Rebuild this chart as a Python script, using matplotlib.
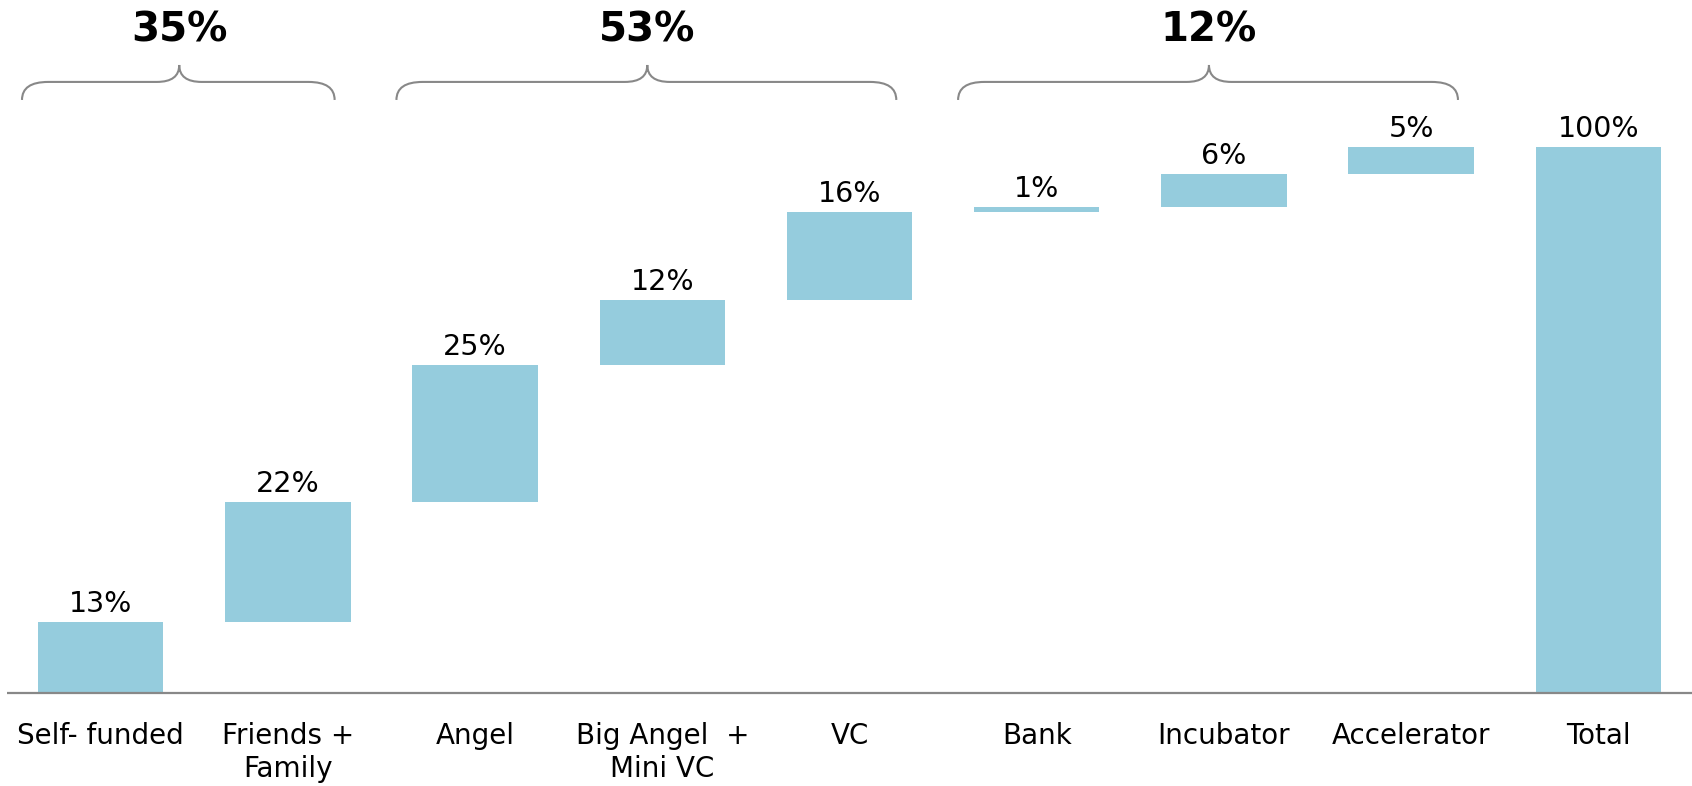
import matplotlib.pyplot as plt
import numpy as np
from matplotlib.path import Path
from matplotlib.patches import PathPatch

categories = ['Self- funded', 'Friends +\nFamily', 'Angel', 'Big Angel  +\nMini VC', 'VC',
              'Bank', 'Incubator', 'Accelerator', 'Total']
values = [13, 22, 25, 12, 16, 1, 6, 5]
total = 100
group_pct = [35, 53, 12]
group_first = [0, 2, 5]
group_last = [1, 4, 7]

bar_color = '#95ccdd'
line_color = '#888888'

fig = plt.figure(figsize=(16.92, 7.86), dpi=100)
ax = fig.add_axes([7 / 1692, 0, 1 - 7 / 1692, 1])
ax.set_xlim(-0.5, 8.5)
ax.set_ylim(-17.0, 126.9)
ax.axis('off')

# waterfall steps, then the total bar
bottoms = np.concatenate([[0], np.cumsum(values)[:-1]])
heights = values + [total]
bottoms = list(bottoms) + [0]
x = np.arange(len(categories))
bars = ax.bar(x, heights, bottom=bottoms, width=0.67, color=bar_color, zorder=2)

for xi, b, h in zip(x, bottoms, heights):
    ax.annotate(f'{h}%', xy=(xi, b + h), xytext=(0, 3), textcoords='offset points',
                ha='center', va='bottom', fontsize=20.5)

ax.axhline(0, color=line_color, lw=1.6, zorder=3)

for xi, lab in zip(x, categories):
    ax.text(xi, -5.2, lab, ha='center', va='top', fontsize=20, linespacing=1.25,
            multialignment='center')


def brace(x0, x1, xm, yb=108.6, yh=111.9, yt=115.0, r=0.14, r2=0.12):
    verts = [(x0, yb), (x0, yh), (x0 + r, yh),
             (xm - r2, yh), (xm, yh), (xm, yt),
             (xm, yh), (xm + r2, yh),
             (x1 - r, yh), (x1, yh), (x1, yb)]
    codes = [Path.MOVETO, Path.CURVE3, Path.CURVE3,
             Path.LINETO, Path.CURVE3, Path.CURVE3,
             Path.CURVE3, Path.CURVE3,
             Path.LINETO, Path.CURVE3, Path.CURVE3]
    ax.add_patch(PathPatch(Path(verts, codes), fill=False, ec=line_color, lw=1.5))


for pct, f, l in zip(group_pct, group_first, group_last):
    xm = (f + l) / 2 - 0.08
    brace(f - 0.42, l + 0.25, xm)
    ax.text(xm, 121.3, f'{pct}%', ha='center', va='center', fontsize=29, fontweight='bold')

fig.savefig('out.png', dpi=100)
